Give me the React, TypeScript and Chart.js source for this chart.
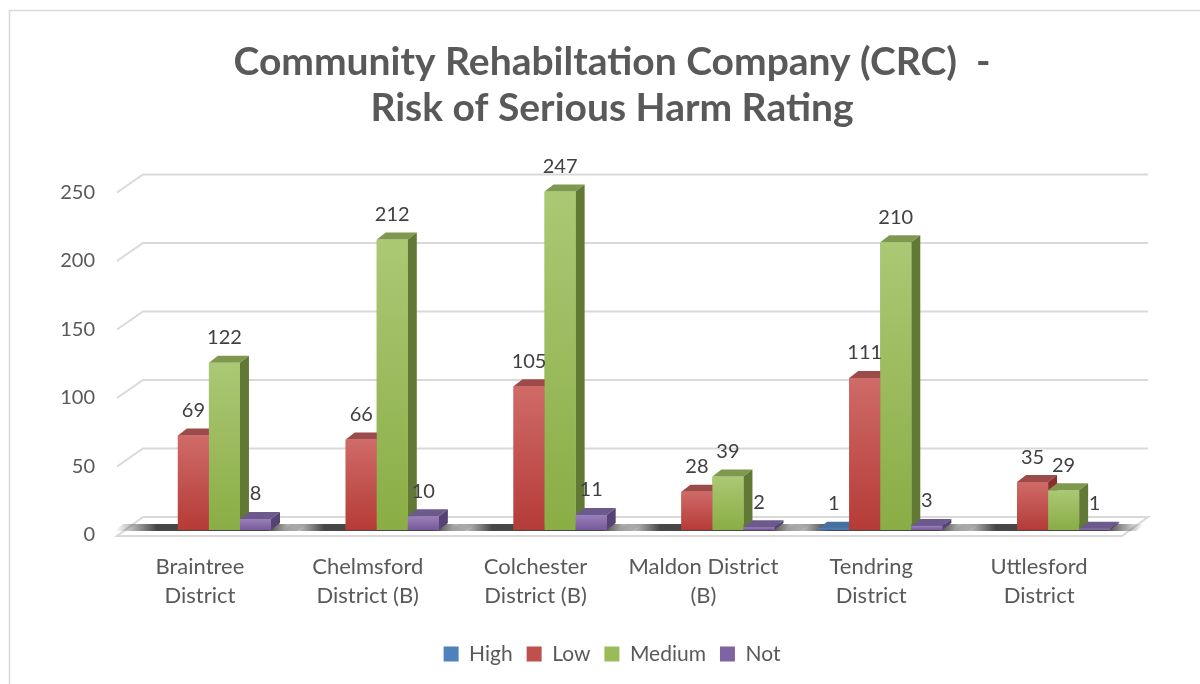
import React, { useEffect, useRef } from "react";
import { Chart, registerables } from "chart.js";

Chart.register(...registerables);

const categories: string[][] = [
  ["Braintree", "District"],
  ["Chelmsford", "District (B)"],
  ["Colchester", "District (B)"],
  ["Maldon District", "(B)"],
  ["Tendring", "District"],
  ["Uttlesford", "District"],
];
const seriesNames = ["High", "Low", "Medium", "Not"];
const highValues = [0, 0, 0, 0, 1, 0];
const lowValues = [69, 66, 105, 28, 111, 35];
const mediumValues = [122, 212, 247, 39, 210, 29];
const notValues = [8, 10, 11, 2, 3, 1];
const yTickValues = [0, 50, 100, 150, 200, 250];
const titleLines = ["Community Rehabiltation Company (CRC)  -", "Risk of Serious Harm Rating"];

const seriesValues = [highValues, lowValues, mediumValues, notValues];
const baseColors = ["#4f81bd", "#c0504d", "#9bbb59", "#8064a2"];
const frontTop = ["#5f91cf", "#cf6b68", "#abc874", "#9a80bb"];
const frontBottom = ["#3a6aa8", "#b53b37", "#8aad45", "#775a99"];
const sideColors = ["#2f5688", "#8c2f2c", "#617934", "#564273"];
const topColors = ["#46709f", "#9c4b4a", "#7f9850", "#6c5a8c"];

const FONT = "Lato, 'Open Sans', sans-serif";
const DX = 9;
const DY = -7;

const threeDPlugin = {
  id: "threeD",
  afterLayout(chart: any) {
    // widen the y-axis clip box so tick labels left of the padding are visible
    const y = chart.scales.y;
    y.left = 0;
  },
  beforeDraw(chart: any) {
    const ctx = chart.ctx;
    ctx.save();
    ctx.fillStyle = "#ffffff";
    ctx.fillRect(0, 0, chart.width, chart.height);
    ctx.strokeStyle = "#d9d9d9";
    ctx.lineWidth = 1.5;
    ctx.strokeRect(9.5, 10.5, 1300, 900);
    ctx.restore();
  },
  beforeDatasetsDraw(chart: any) {
    const ctx = chart.ctx;
    const { left: L, right: R, bottom: B } = chart.chartArea;
    const yScale = chart.scales.y;
    ctx.save();
    ctx.strokeStyle = "#d9d9d9";
    ctx.lineWidth = 2;
    yTickValues.forEach((v) => {
      if (v === 0) return;
      const p = yScale.getPixelForValue(v);
      const back = p - 13;
      const front = p + 5;
      ctx.beginPath();
      ctx.moveTo(L - 8, front);
      ctx.lineTo(L + 18, back);
      ctx.lineTo(R + 16, back);
      ctx.stroke();
    });
    const fFront = B + 6;
    const fBack = B - 13;
    ctx.beginPath();
    ctx.moveTo(L - 8, fFront);
    ctx.lineTo(R - 10, fFront);
    ctx.lineTo(R + 16, fBack);
    ctx.lineTo(L + 18, fBack);
    ctx.closePath();
    ctx.fillStyle = "#ffffff";
    ctx.fill();
    ctx.stroke();
    const first = chart.getDatasetMeta(0);
    const last = chart.getDatasetMeta(3);
    for (let i = 0; i < categories.length; i++) {
      const a = first.data[i];
      const b = last.data[i];
      const x0 = a.x - a.width / 2 - 32;
      const x1 = b.x + b.width / 2 + 34;
      const g = ctx.createLinearGradient(x0, 0, x1, 0);
      g.addColorStop(0, "rgba(60,60,60,0)");
      g.addColorStop(0.22, "rgba(50,50,50,0.9)");
      g.addColorStop(0.8, "rgba(50,50,50,0.9)");
      g.addColorStop(1, "rgba(60,60,60,0)");
      ctx.fillStyle = g;
      ctx.beginPath();
      ctx.moveTo(x0, B + 1);
      ctx.lineTo(x1 - 8, B + 1);
      ctx.lineTo(x1, B - 6);
      ctx.lineTo(x0 + 8, B - 6);
      ctx.closePath();
      ctx.fill();
    }
    ctx.restore();
  },
  afterDatasetsDraw(chart: any) {
    const ctx = chart.ctx;
    ctx.save();
    for (let i = 0; i < categories.length; i++) {
      for (let d = 0; d < seriesValues.length; d++) {
        const v = seriesValues[d][i];
        if (!v) continue;
        const el = chart.getDatasetMeta(d).data[i];
        const { x, y, base, width } = el.getProps(["x", "y", "base", "width"], true);
        const l = x - width / 2;
        const r = x + width / 2;
        ctx.fillStyle = topColors[d];
        ctx.beginPath();
        ctx.moveTo(l, y);
        ctx.lineTo(l + DX, y + DY);
        ctx.lineTo(r + DX, y + DY);
        ctx.lineTo(r, y);
        ctx.closePath();
        ctx.fill();
        ctx.fillStyle = sideColors[d];
        ctx.beginPath();
        ctx.moveTo(r, y);
        ctx.lineTo(r + DX, y + DY);
        ctx.lineTo(r + DX, base + DY);
        ctx.lineTo(r, base);
        ctx.closePath();
        ctx.fill();
        const g = ctx.createLinearGradient(0, y, 0, base);
        g.addColorStop(0, frontTop[d]);
        g.addColorStop(1, frontBottom[d]);
        ctx.fillStyle = g;
        ctx.fillRect(l, y, width, Math.max(base - y, 1));
      }
    }
    ctx.fillStyle = "#404040";
    ctx.font = `20px ${FONT}`;
    ctx.textAlign = "center";
    ctx.textBaseline = "middle";
    for (let d = 0; d < seriesValues.length; d++) {
      const meta = chart.getDatasetMeta(d);
      seriesValues[d].forEach((v, i) => {
        if (!v) return;
        const el = meta.data[i];
        ctx.fillText(String(v), el.x, el.y - 25);
      });
    }
    ctx.restore();
  },
};

export default function App() {
  const canvasRef = useRef<HTMLCanvasElement | null>(null);

  useEffect(() => {
    document.body.style.margin = "0";
    const canvas = canvasRef.current;
    if (!canvas) return;
    const chart = new Chart(canvas, {
      type: "bar",
      data: {
        labels: categories,
        datasets: seriesNames.map((name, d) => ({
          label: name,
          data: seriesValues[d],
          backgroundColor: baseColors[d],
          borderWidth: 0,
          categoryPercentage: 0.74,
          barPercentage: 1.0,
        })),
      },
      options: {
        animation: false,
        responsive: false,
        maintainAspectRatio: false,
        events: [],
        layout: { padding: { left: 92, right: 68, top: 0, bottom: 9.5 } },
        plugins: {
          title: {
            display: true,
            text: titleLines,
            color: "#595959",
            font: { family: FONT, size: 39, weight: "bold", lineHeight: 46 / 39 },
            padding: { top: 39, bottom: 56.5 },
          },
          legend: {
            position: "bottom",
            labels: {
              color: "#595959",
              font: { family: FONT, size: 21 },
              boxWidth: 15,
              boxHeight: 15,
              padding: 14,
            },
          },
          tooltip: { enabled: false },
        },
        scales: {
          x: {
            grid: { display: false, drawTicks: false },
            border: { display: false },
            ticks: {
              color: "#595959",
              font: { family: FONT, size: 22, lineHeight: 29 / 22 },
              padding: 22.5,
              labelOffset: -9,
              maxRotation: 0,
              autoSkip: false,
            },
            afterFit: (s: any) => {
              s.height = 99.5;
            },
          },
          y: {
            min: 0,
            max: 250,
            grid: { display: false, drawTicks: false },
            border: { display: false },
            ticks: {
              stepSize: 50,
              color: "#595959",
              font: { family: FONT, size: 20 },
              padding: 30,
              labelOffset: 5,
            },
            afterFit: (s: any) => {
              s.width = 33;
            },
          },
        },
      },
      plugins: [threeDPlugin],
    });
    return () => chart.destroy();
  }, []);

  return (
    <canvas
      ref={canvasRef}
      width={1200}
      height={684}
      style={{ display: "block", width: 1200, height: 684 }}
    />
  );
}
